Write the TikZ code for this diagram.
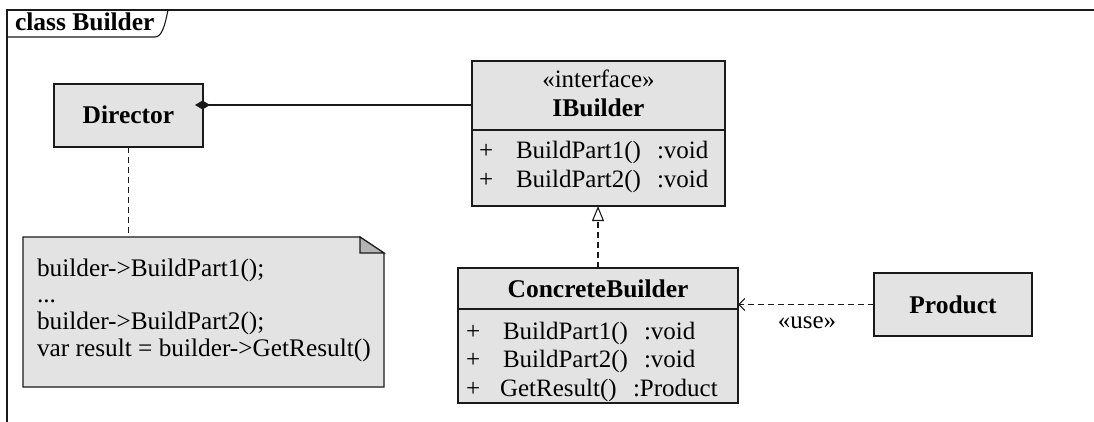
\documentclass[tikz,border=0pt]{standalone}
\usepackage{fontspec}
\setmainfont{Liberation Serif}
\usetikzlibrary{arrows.meta}
\definecolor{boxgray}{HTML}{E3E3E3}
\definecolor{foldgray}{HTML}{B4B4B4}
\definecolor{linec}{HTML}{1A1A1A}
\begin{document}
\begin{tikzpicture}[x=1pt,y=-1pt,
  every node/.style={inner sep=0pt,outer sep=0pt,font=\fontsize{25}{28}\selectfont,text=black},
  umlbox/.style={draw=linec,fill=boxgray,line width=1.2pt},
  boxline/.style={draw=linec,line width=1.2pt},
  frameline/.style={draw=linec,line width=1.1pt},
  bold/.style={font=\bfseries\fontsize{25.5}{28}\selectfont},
  txt/.style={anchor=base west},
  notetxt/.style={anchor=base west,font=\fontsize{25.3}{29}\selectfont},
  dashline/.style={draw=linec,line width=1.1pt,dash pattern=on 6pt off 4pt}]
\useasboundingbox (0,0) rectangle (1094,422);

% frame
\coordinate (fBL) at (7,422);
\coordinate (fTL) at (7,10);
\coordinate (fTR) at (1094,10);
\coordinate (tabB) at (7,37);
\coordinate (tabC) at (155,37);
\coordinate (tabE) at (168,10);
\draw[frameline] (fBL) -- (fTL) -- (fTR);
\draw[frameline] (tabB) -- (tabC) .. controls (162,37) and (165,25) .. (tabE);
\node[anchor=base west,font=\bfseries\fontsize{25.5}{28}\selectfont] (title) at (15,31) {class Builder};

% Director
\node[umlbox,minimum width=149pt,minimum height=63pt] (director) at (128.5,115.5) {};
\node[bold,anchor=base] (directorT) at (128.5,124) {Director};

% IBuilder
\node[umlbox,minimum width=253pt,minimum height=145pt] (ib) at (598.5,133.5) {};
\draw[boxline] (ib.west |- 0,130) -- (ib.east |- 0,130);
\node[anchor=base] (ibS) at (598.5,88) {«interface»};
\node[bold,anchor=base] (ibT) at (598.5,117) {IBuilder};
\node[txt] (ib1v) at (479,159) {+};
\node[txt] (ib1n) at (516,159) {BuildPart1()};
\node[txt] (ib1t) at (657,159) {:void};
\node[txt] (ib2v) at (479,188) {+};
\node[txt] (ib2n) at (516,188) {BuildPart2()};
\node[txt] (ib2t) at (657,188) {:void};

% ConcreteBuilder
\node[umlbox,minimum width=280pt,minimum height=135pt] (cb) at (598,335.5) {};
\draw[boxline] (cb.west |- 0,309) -- (cb.east |- 0,309);
\node[bold,anchor=base] (cbT) at (598,297) {ConcreteBuilder};
\node[txt] (cb1v) at (466,339) {+};
\node[txt] (cb1n) at (503,339) {BuildPart1()};
\node[txt] (cb1t) at (644,339) {:void};
\node[txt] (cb2v) at (466,367) {+};
\node[txt] (cb2n) at (503,367) {BuildPart2()};
\node[txt] (cb2t) at (644,367) {:void};
\node[txt] (cb3v) at (466,396) {+};
\node[txt] (cb3n) at (500,396) {GetResult()};
\node[txt] (cb3t) at (633,396) {:Product};

% Product
\node[umlbox,minimum width=158pt,minimum height=63pt] (product) at (953,304.5) {};
\node[bold,anchor=base] (productT) at (953,313) {Product};

% Note
\node[minimum width=361pt,minimum height=150pt] (note) at (203.5,312) {};
\draw[umlbox] (note.north west) -- (360,237) -- (384,253) -- (note.south east) -- (note.south west) -- cycle;
\draw[boxline,fill=foldgray] (360,237) -- (360,253) -- (384,253) -- cycle;
\node[notetxt] (n1) at (37,276) {builder->BuildPart1();};
\node[notetxt] (n2) at (37,302) {...};
\node[notetxt] (n3) at (37,329) {builder->BuildPart2();};
\node[notetxt] (n4) at (37,356) {var result = builder->GetResult()};

% connectors
\coordinate (dirR) at (195,105);
\draw[boxline,{Diamond[length=15pt,width=9pt,fill=linec]}-] (dirR) -- (ib.west |- dirR);
\draw[dashline] (director.south) -- (director.south |- note.north);
\draw[dashline,-{Triangle[open,length=15pt,width=12pt,fill=white]}] (cb.north) -- (cb.north |- ib.south);
\draw[dashline,-{Straight Barb[length=6pt,width=12pt]}] (product.west) -- (cb.east |- product.west);
\node[anchor=base] (use) at (807,328) {«use»};
\end{tikzpicture}
\end{document}
